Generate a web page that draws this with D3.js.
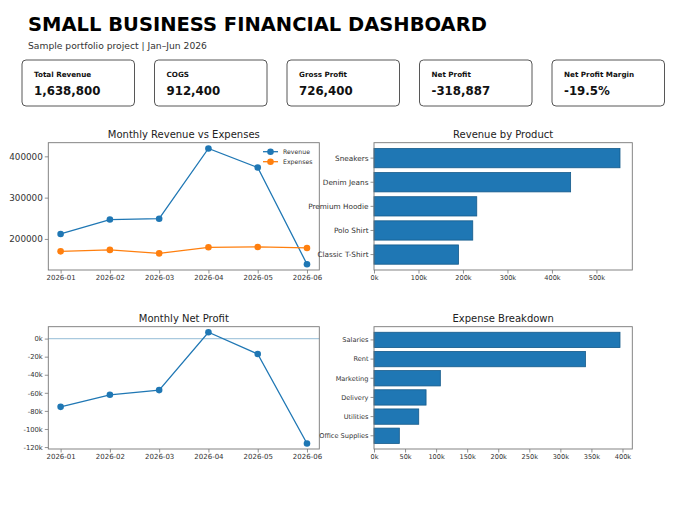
<!DOCTYPE html>
<html><head><meta charset="utf-8">
<script src="https://cdn.jsdelivr.net/npm/d3@7/dist/d3.min.js"></script>
<style>
body{margin:0;background:#fff;}
text{font-family:"DejaVu Sans",sans-serif;}
</style></head><body>
<svg id="c" width="680" height="510"></svg>
<script>
const months = ["2026-01","2026-02","2026-03","2026-04","2026-05","2026-06"];
const revenue = [212000, 247000, 249000, 419000, 373000, 138800];
const expenses = [170000, 173400, 165100, 179700, 180600, 178200];
const netProfit = [-75500, -62200, -57000, 7000, -17000, -116000];
const products = ["Sneakers","Denim Jeans","Premium Hoodie","Polo Shirt","Classic T-Shirt"];
const productRevenue = [553000, 442000, 231000, 222000, 190000];
const expenseCats = ["Salaries","Rent","Marketing","Delivery","Utilities","Office Supplies"];
const expenseVals = [396000, 340400, 106800, 83800, 72000, 40800];
const kpiLabels = ["Total Revenue","COGS","Gross Profit","Net Profit","Net Profit Margin"];
const kpiValues = ["1,638,800","912,400","726,400","-318,887","-19.5%"];
const revTicks = [200000, 300000, 400000];
const npTicks = [0,-20000,-40000,-60000,-80000,-100000,-120000];

const svg = d3.select("#c");
const BLUE = "#1f77b4", ORANGE = "#ff7f0e", SPINE = "#777", TXT = "#333";

svg.append("text").attr("x",28).attr("y",31).attr("font-size",19.5).attr("font-weight","bold").attr("fill","#000").text("SMALL BUSINESS FINANCIAL DASHBOARD");
svg.append("text").attr("x",28).attr("y",48.5).attr("font-size",9.2).attr("fill","#333").text("Sample portfolio project | Jan–Jun 2026");

// KPI cards
const cardX = d3.scaleLinear().domain([0,4]).range([22,552]);
kpiLabels.forEach((l,i)=>{
  const g = svg.append("g").attr("transform",`translate(${cardX(i)},60)`);
  g.append("rect").attr("width",112.5).attr("height",46).attr("rx",4).attr("fill","#fff").attr("stroke","#444").attr("stroke-width",0.9);
  g.append("text").attr("x",12).attr("y",16.5).attr("font-size",7.2).attr("font-weight","bold").attr("fill","#111").text(l);
  g.append("text").attr("x",12).attr("y",35).attr("font-size",11.8).attr("font-weight","bold").attr("fill","#111").text(kpiValues[i]);
});

function frame(g, x0, y0, w, h, title){
  g.append("rect").attr("x",x0).attr("y",y0).attr("width",w).attr("height",h).attr("fill","none").attr("stroke",SPINE).attr("stroke-width",0.9);
  g.append("text").attr("x",x0+w/2).attr("y",y0-5).attr("text-anchor","middle").attr("font-size",10).attr("fill","#222").text(title);
}
function styleAxis(a, fs){
  a.selectAll("path.domain").remove();
  a.selectAll("line").attr("stroke",SPINE).attr("stroke-width",0.8);
  a.selectAll("text").attr("font-size",fs).attr("fill",TXT).attr("font-family","DejaVu Sans, sans-serif");
}
function pad(min,max){const r=max-min;return [min-0.05*r,max+0.05*r];}

// Chart 1
{
  const L=48.3,R=319.3,T=142.7,B=270;
  const g = svg.append("g");
  const x = d3.scalePoint().domain(months).range([L,R]).padding(0.25);
  const all = revenue.concat(expenses);
  const y = d3.scaleLinear().domain(pad(d3.min(all),d3.max(all))).range([B,T]);
  g.append("g").attr("transform",`translate(0,${B})`).call(d3.axisBottom(x).tickSize(3.5).tickPadding(2)).call(a=>styleAxis(a,7));
  g.append("g").attr("transform",`translate(${L},0)`).call(d3.axisLeft(y).tickValues(revTicks).tickFormat(d3.format("d")).tickSize(3.5).tickPadding(2)).call(a=>styleAxis(a,8.8));
  [[revenue,BLUE],[expenses,ORANGE]].forEach(([s,c])=>{
    g.append("path").datum(s).attr("fill","none").attr("stroke",c).attr("stroke-width",1.3)
      .attr("d",d3.line().x((d,i)=>x(months[i])).y(d=>y(d)));
    g.selectAll(null).data(s).enter().append("circle").attr("cx",(d,i)=>x(months[i])).attr("cy",d=>y(d)).attr("r",3.3).attr("fill",c);
  });
  frame(g,L,T,R-L,B-T,"Monthly Revenue vs Expenses");
  [["Revenue",BLUE,151.7],["Expenses",ORANGE,161.7]].forEach(([n,c,yy])=>{
    g.append("line").attr("x1",263).attr("x2",278).attr("y1",yy).attr("y2",yy).attr("stroke",c).attr("stroke-width",1.3);
    g.append("circle").attr("cx",270.5).attr("cy",yy).attr("r",3.3).attr("fill",c);
    g.append("text").attr("x",283).attr("y",yy+2.2).attr("font-size",6.2).attr("fill",TXT).text(n);
  });
}

// Chart 3
{
  const L=48.3,R=319.3,T=326.7,B=449;
  const g = svg.append("g");
  const x = d3.scalePoint().domain(months).range([L,R]).padding(0.25);
  const y = d3.scaleLinear().domain(pad(d3.min(netProfit),d3.max(netProfit))).range([B,T]);
  g.append("g").attr("transform",`translate(0,${B})`).call(d3.axisBottom(x).tickSize(3.5).tickPadding(2)).call(a=>styleAxis(a,7));
  g.append("g").attr("transform",`translate(${L},0)`).call(d3.axisLeft(y).tickValues(npTicks).tickFormat(d=>(d/1000)+"k").tickSize(3.5).tickPadding(2)).call(a=>styleAxis(a,6.8));
  g.append("line").attr("x1",L).attr("x2",R).attr("y1",y(0)).attr("y2",y(0)).attr("stroke","#a9c9de").attr("stroke-width",1.3);
  g.append("path").datum(netProfit).attr("fill","none").attr("stroke",BLUE).attr("stroke-width",1.3)
    .attr("d",d3.line().x((d,i)=>x(months[i])).y(d=>y(d)));
  g.selectAll(null).data(netProfit).enter().append("circle").attr("cx",(d,i)=>x(months[i])).attr("cy",d=>y(d)).attr("r",3.3).attr("fill",BLUE);
  frame(g,L,T,R-L,B-T,"Monthly Net Profit");
}

function barChart(cats, vals, L,R,T,B,title,tickStep,labelSize){
  const g = svg.append("g");
  const n = cats.length;
  const x = d3.scaleLinear().domain([0,d3.max(vals)*1.05]).range([L,R]);
  const lo = -0.4 - 0.05*(n-1+0.8), hi = n-1+0.4+0.05*(n-1+0.8);
  const yi = d3.scaleLinear().domain([lo,hi]).range([T,B]);
  const bh = yi(0.8)-yi(0);
  const ticks = d3.range(0,d3.max(vals)*1.05,tickStep);
  g.append("g").attr("transform",`translate(0,${B})`).call(d3.axisBottom(x).tickValues(ticks).tickFormat(d=>(d/1000)+"k").tickSize(3.5).tickPadding(2)).call(a=>styleAxis(a,6.6));
  g.selectAll(null).data(vals).enter().append("rect")
    .attr("x",L).attr("y",(d,i)=>yi(i)-bh/2).attr("width",d=>x(d)-L).attr("height",bh)
    .attr("fill",BLUE).attr("stroke","#155a8a").attr("stroke-width",0.8);
  const yAx = g.append("g");
  cats.forEach((c,i)=>{
    yAx.append("line").attr("x1",L-3.5).attr("x2",L).attr("y1",yi(i)).attr("y2",yi(i)).attr("stroke",SPINE).attr("stroke-width",0.8);
    yAx.append("text").attr("x",L-5.5).attr("y",yi(i)).attr("dy","0.35em").attr("text-anchor","end").attr("font-size",labelSize).attr("fill",TXT).text(c);
  });
  frame(g,L,T,R-L,B-T,title);
}
barChart(products, productRevenue, 374,632.3,142.7,270,"Revenue by Product",100000,7.3);
barChart(expenseCats, expenseVals, 374,632.3,326.7,449,"Expense Breakdown",50000,6.6);
</script></body></html>
